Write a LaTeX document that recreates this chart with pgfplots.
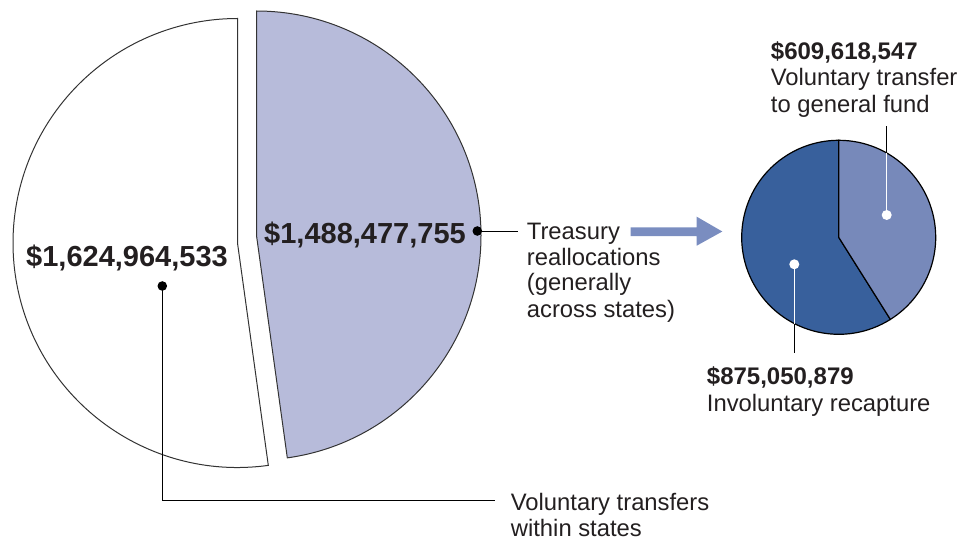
\documentclass[border=0pt]{standalone}
\usepackage{pgfplots}
\pgfplotsset{compat=1.18}
\usepackage{fontspec}
\setmainfont{Liberation Sans}
\definecolor{lightslice}{HTML}{B7BBDA}
\definecolor{midslice}{HTML}{7789BA}
\definecolor{darkslice}{HTML}{38609C}
\definecolor{arrowblue}{HTML}{7A8DC0}
\definecolor{txt}{HTML}{231F20}
\definecolor{edge}{HTML}{333333}
% values in millions of dollars
\def\valWithin{1624.964533}
\def\valTreasury{1488.477755}
\def\valGeneral{609.618547}
\def\valRecapture{875.050879}
\pgfmathsetmacro{\fracT}{\valTreasury/(\valTreasury+\valWithin)}
\pgfmathsetmacro{\angT}{90-360*\fracT}
\pgfmathsetmacro{\fracG}{\valGeneral/(\valGeneral+\valRecapture)}
\pgfmathsetmacro{\angG}{90-360*\fracG}
\newcommand{\bigb}{\fontsize{29}{32}\selectfont\bfseries}
\newcommand{\smb}{\fontsize{24}{26}\selectfont\bfseries}
\newcommand{\smn}{\fontsize{23.8}{26}\selectfont}
\begin{document}
\begin{tikzpicture}
\begin{axis}[
  width=976pt, height=540pt, scale only axis,
  xmin=0, xmax=976, ymin=0, ymax=540, y dir=reverse,
  hide axis, clip=false,
]
\path (axis cs:0,0) rectangle (axis cs:976,540);
% big pie: white slice (within states)
\filldraw[fill=white, draw=edge, line width=1pt, line join=miter]
  (axis cs:237.5,243) -- ++(\angT:224.5pt)
  arc[start angle=\angT, end angle=-270, radius=224.5pt] -- cycle;
% big pie: treasury slice
\filldraw[fill=lightslice, draw=edge, line width=1pt, line join=miter]
  (axis cs:256.5,235.5) -- ++(90:224.5pt)
  arc[start angle=90, end angle=\angT, radius=224.5pt] -- cycle;
% small pie
\filldraw[fill=darkslice, draw=black, line width=1.2pt, line join=miter]
  (axis cs:838.7,237.3) -- ++(\angG:97pt)
  arc[start angle=\angG, end angle=-270, radius=97pt] -- cycle;
\filldraw[fill=midslice, draw=black, line width=1.2pt, line join=miter]
  (axis cs:838.7,237.3) -- ++(90:97pt)
  arc[start angle=90, end angle=\angG, radius=97pt] -- cycle;
% leader lines
\draw[black, line width=1pt] (axis cs:162.3,286) -- (axis cs:162.3,500.5) -- (axis cs:495,500.5);
\fill[black] (axis cs:162.3,286) circle[radius=4.8pt];
\draw[black, line width=1pt] (axis cs:477.3,231) -- (axis cs:518.3,231);
\fill[black] (axis cs:477.3,231) circle[radius=4.8pt];
\draw[white, line width=1pt] (axis cs:886.7,215) -- (axis cs:886.7,153);
\draw[black, line width=1pt] (axis cs:886.7,153) -- (axis cs:886.7,125.7);
\fill[white] (axis cs:886.7,215) circle[radius=5pt];
\draw[white, line width=1pt] (axis cs:794.3,264.3) -- (axis cs:794.3,323.5);
\draw[black, line width=1pt] (axis cs:794.3,323.5) -- (axis cs:794.3,353);
\fill[white] (axis cs:794.3,264.3) circle[radius=5pt];
% arrow
\fill[arrowblue] (axis cs:630.7,227.3) -- (axis cs:696.7,227.3) -- (axis cs:696.7,216.7)
  -- (axis cs:722.3,231.5) -- (axis cs:696.7,245.7) -- (axis cs:696.7,236) -- (axis cs:630.7,236) -- cycle;
% labels
\begin{scope}[every node/.style={anchor=base west, inner sep=0pt, text=txt}]
\node at (axis cs:26,266.7) {\bigb \$1,624,964,533};
\node at (axis cs:264,243.3) {\bigb \$1,488,477,755};
\node at (axis cs:526.7,239.3) {\smn Treasury};
\node at (axis cs:526.7,265) {\smn reallocations};
\node at (axis cs:526.7,290.7) {\smn (generally};
\node at (axis cs:526.7,317.3) {\smn across states)};
\node at (axis cs:510.7,510) {\smn Voluntary transfers};
\node at (axis cs:510.7,536) {\smn within states};
\node at (axis cs:770.7,59.6) {\smb \$609,618,547};
\node at (axis cs:770.7,86) {\smn Voluntary transfer};
\node at (axis cs:770.7,112.6) {\smn to general fund};
\node at (axis cs:706.7,384.6) {\smb \$875,050,879};
\node at (axis cs:706.7,411.4) {\smn Involuntary recapture};
\end{scope}
\end{axis}
\end{tikzpicture}
\end{document}
